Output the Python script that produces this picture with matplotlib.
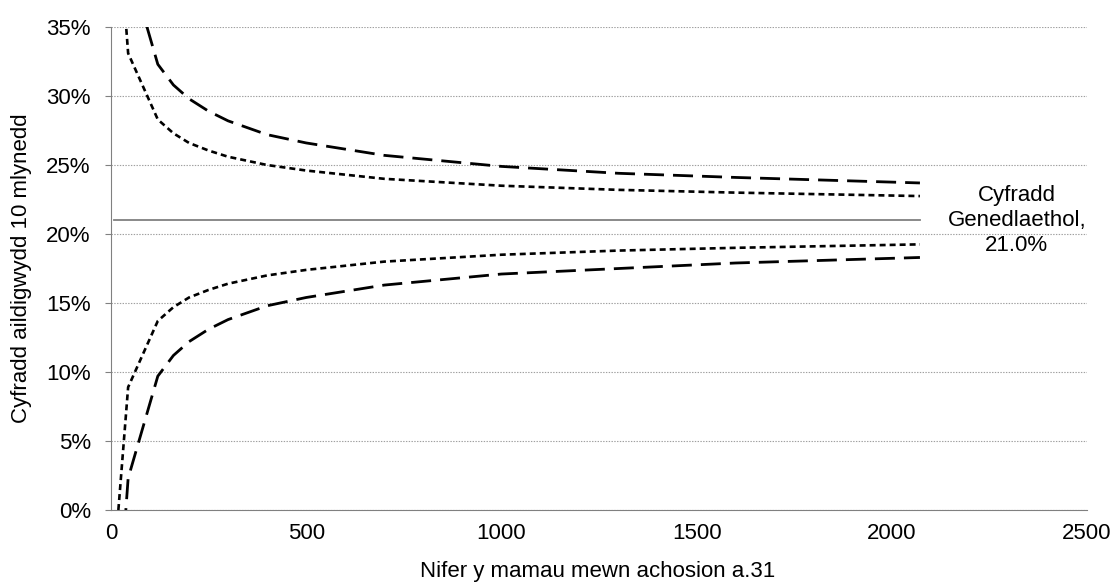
import matplotlib
matplotlib.use('Agg')
import matplotlib.pyplot as plt
from matplotlib.ticker import FuncFormatter, MultipleLocator

plt.rcParams['font.family'] = ['Liberation Sans', 'DejaVu Sans']
plt.rcParams['lines.scale_dashes'] = False

# number of mothers (x) and control limits (%)
n_mothers = [19, 44, 120, 160, 200, 250, 300, 400, 500, 700, 1000, 1300, 1600, 2072]
upper_95 = [42.5, 33.1, 28.3, 27.3, 26.6, 26.05, 25.6, 25.0, 24.6, 24.0, 23.5, 23.2, 23.0, 22.75]
lower_95 = [0.0, 8.9, 13.7, 14.7, 15.4, 15.95, 16.4, 17.0, 17.4, 18.0, 18.5, 18.8, 19.0, 19.25]
upper_998 = [50.0, 39.7, 32.3, 30.8, 29.8, 28.9, 28.2, 27.2, 26.6, 25.7, 24.9, 24.4, 24.1, 23.7]
lower_998 = [-7.5, 2.3, 9.7, 11.2, 12.2, 13.1, 13.8, 14.8, 15.4, 16.3, 17.1, 17.5, 17.9, 18.3]

national_rate = 21.0
national_x = [8, 2072]
label_text = 'Cyfradd\nGenedlaethol,\n21.0%'

fs = 16
fig = plt.figure(figsize=(11.14, 5.85), dpi=100)
ax = fig.add_axes([0.0996, 0.1282, 0.8762, 0.8256])

ax.plot(national_x, [national_rate, national_rate], color='#808080', lw=1.3, zorder=3)
short = (0, (4.3, 2.9))
long_ = (0, (14.4, 6.5))
ax.plot(n_mothers, upper_95, color='black', lw=1.9, linestyle=short, zorder=4)
ax.plot(n_mothers, lower_95, color='black', lw=1.9, linestyle=short, zorder=4)
ax.plot(n_mothers, upper_998, color='black', lw=2.0, linestyle=long_, zorder=4)
ax.plot(n_mothers, lower_998, color='black', lw=2.0, linestyle=long_, zorder=4)

ax.text(2320, 21.0, label_text, ha='center', va='center',
        fontsize=fs, linespacing=1.25)

ax.set_xlim(0, 2500)
ax.set_ylim(0, 35)
ax.xaxis.set_major_locator(MultipleLocator(500))
ax.yaxis.set_major_locator(MultipleLocator(5))
ax.yaxis.set_major_formatter(FuncFormatter(lambda v, p: '%d%%' % round(v)))

ax.grid(axis='y', color='#a0a0a0', linestyle=(0, (1, 1)), lw=0.8)
ax.set_axisbelow(True)
for s in ['top', 'right']:
    ax.spines[s].set_visible(False)
ax.spines['left'].set_color('#808080')
ax.spines['bottom'].set_color('#808080')
ax.tick_params(axis='y', direction='out', length=4.5, color='#808080',
               labelsize=fs, pad=10)
ax.tick_params(axis='x', length=0, labelsize=fs, pad=9)

ax.set_xlabel('Nifer y mamau mewn achosion a.31', fontsize=fs, va='center')
ax.set_ylabel('Cyfradd aildigwydd 10 mlynedd', fontsize=fs, va='center')
ax.xaxis.set_label_coords(0.499, -0.127)
ax.yaxis.set_label_coords(-0.092, 0.5)

fig.savefig('out.png', dpi=100)
